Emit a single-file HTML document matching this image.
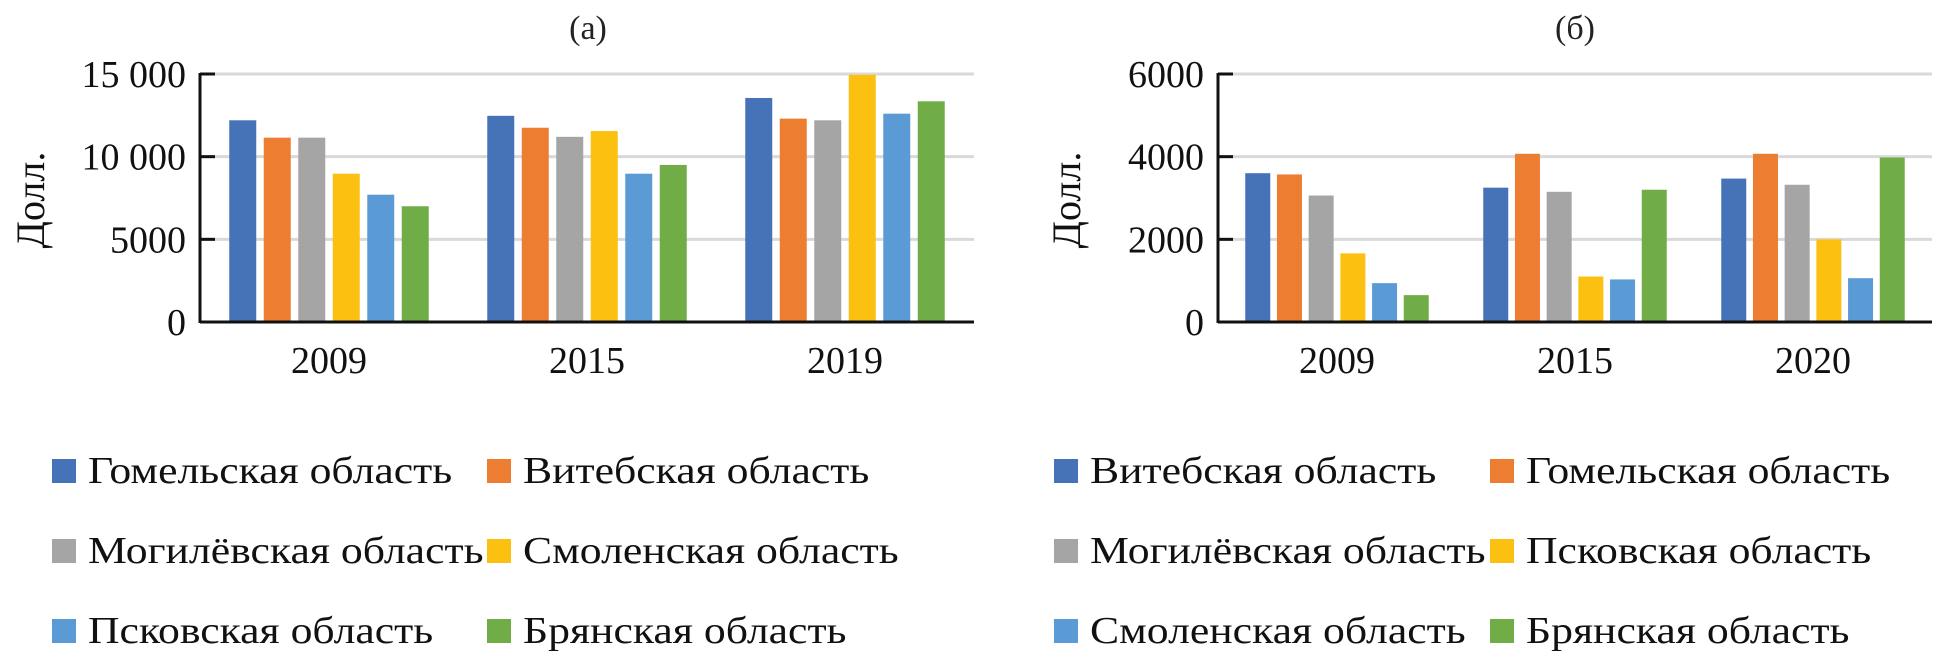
<!DOCTYPE html>
<html><head><meta charset="utf-8"><style>
html,body{margin:0;padding:0;background:#fff;}
svg{display:block;font-family:"Liberation Serif",serif;}
</style></head><body>
<svg id="svg" width="1937" height="655" viewBox="0 0 1937 655" xmlns="http://www.w3.org/2000/svg"></svg>
<script>
const colors=['#4672b8','#ed7d31','#a5a5a5','#fcc010','#5b9bd5','#70ad47'];
const catsA=['2009','2015','2019'];
const seriesA=[
 [12200,12470,13550],
 [11150,11750,12300],
 [11150,11200,12200],
 [8970,11550,14950],
 [7700,8970,12600],
 [7000,9500,13350]];
const ticksA=[0,5000,10000,15000];
const tickLabelsA=['0','5000','10 000','15 000'];
const legendA=['Гомельская область','Витебская область','Могилёвская область','Смоленская область','Псковская область','Брянская область'];
const catsB=['2009','2015','2020'];
const seriesB=[
 [3600,3250,3470],
 [3570,4070,4070],
 [3060,3150,3320],
 [1660,1100,2000],
 [940,1030,1060],
 [650,3200,3980]];
const ticksB=[0,2000,4000,6000];
const tickLabelsB=['0','2000','4000','6000'];
const legendB=['Витебская область','Гомельская область','Могилёвская область','Псковская область','Смоленская область','Брянская область'];

const svg=document.getElementById('svg');
const NS='http://www.w3.org/2000/svg';
function mk(tag,attrs,parent){const e=document.createElementNS(NS,tag);for(const k in attrs)e.setAttribute(k,attrs[k]);(parent||svg).appendChild(e);return e;}

function chart(o){
 const g=mk('g',{});
 
 
 const top=74,base=322,x0=o.x0,cw=o.cw,max=o.max;
 const y=v=>base-(v/max)*(base-top);
 const t=mk('text',{x:o.titleX,y:39,'font-size':34,'text-anchor':'middle',fill:'#222'},g);t.textContent=o.title;
 
 
 o.ticks.forEach((v,i)=>{
  if(v>0){const gl=mk('line',{x1:x0,x2:x0+3*cw,y1:y(v),y2:y(v),stroke:'#d9d9d9','stroke-width':3},g);
   
   }
  mk('line',{x1:x0,x2:x0+15,y1:y(v),y2:y(v),stroke:'#111','stroke-width':3},g);
  const l=mk('text',{x:x0-14,y:y(v)+13,'font-size':38,'text-anchor':'end',fill:'#111'},g);l.textContent=o.tickLabels[i];
  
  
 });
 const pitch=o.pitch,bw=o.bw;
 o.series.forEach((s,si)=>{
  s.forEach((v,ci)=>{
   const cx=x0+cw*(ci+0.5);
   const start=cx-(6*pitch-(pitch-bw))/2;
   const r=mk('rect',{x:start+si*pitch,y:y(v),width:bw,height:base-y(v),fill:colors[si]},g);
   
   
  });
 });
 mk('line',{x1:x0,x2:x0,y1:top-1,y2:base+1,stroke:'#111','stroke-width':3},g);
 const ax=mk('line',{x1:x0,x2:x0+3*cw,y1:base,y2:base,stroke:'#111','stroke-width':3},g);
 
 
 o.cats.forEach((c,ci)=>{
  const l=mk('text',{x:x0+cw*(ci+0.5),y:373,'font-size':38,'text-anchor':'middle',fill:'#111'},g);l.textContent=c;
  
  
 });
 const yl=mk('text',{x:0,y:0,'font-size':40,'text-anchor':'middle',fill:'#111',transform:'translate('+o.ylX+',200) rotate(-90)'},g);
 yl.textContent='Долл.';
 
 
 o.legend.forEach((name,i)=>{
  const col=i%2,row=Math.floor(i/2);
  const sx=o.legX[col],cy=471+row*80;
  const e=mk('g',{},g);
  
  
  mk('rect',{x:sx,y:cy-12,width:24,height:24,fill:colors[i]},e);
  const tx=mk('text',{x:sx+36,y:cy+12,'font-size':38,fill:'#111'},e);tx.textContent=name;
  const w=tx.getComputedTextLength();
  tx.setAttribute('textLength',(w*1.15).toFixed(1));
  tx.setAttribute('lengthAdjust','spacingAndGlyphs');
 });
}
chart({name:'chart-a',x0:200,cw:258,max:15000,pitch:34.5,bw:27,cats:catsA,series:seriesA,ticks:ticksA,tickLabels:tickLabelsA,legend:legendA,title:'(а)',titleX:588,ylX:44,legX:[52,487]});
chart({name:'chart-b',x0:1218,cw:238,max:6000,pitch:31.7,bw:25,cats:catsB,series:seriesB,ticks:ticksB,tickLabels:tickLabelsB,legend:legendB,title:'(б)',titleX:1575,ylX:1080,legX:[1054,1490]});
</script>
</body></html>
